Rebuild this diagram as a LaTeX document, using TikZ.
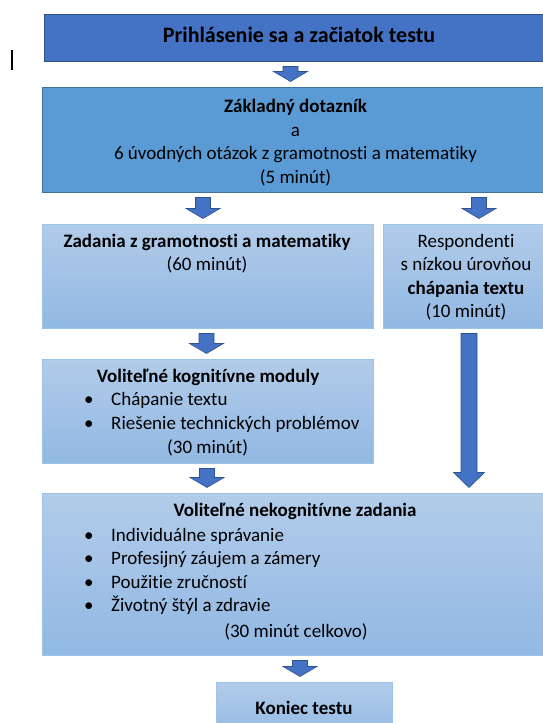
\documentclass[tikz,border=0pt]{standalone}
\usepackage{fontspec}
\setmainfont[Ligatures=NoCommon]{Carlito}
\usetikzlibrary{calc}

\definecolor{loginblue}{RGB}{68,114,196}
\definecolor{loginedge}{RGB}{47,82,143}
\definecolor{questblue}{RGB}{91,155,213}
\definecolor{questedge}{RGB}{65,113,156}
\definecolor{paletop}{RGB}{178,204,234}
\definecolor{palebottom}{RGB}{146,184,227}
\definecolor{paleedge}{RGB}{157,195,230}

\tikzset{
  box/.style={rectangle, inner sep=0pt, line width=1pt},
  loginbox/.style={box, fill=loginblue, draw=loginedge},
  questbox/.style={box, fill=questblue, draw=questedge},
  palebox/.style={box, top color=paletop, bottom color=palebottom, draw=paleedge},
  txt/.style={inner sep=0pt, font=\fontsize{19}{23.5}\selectfont, align=center},
  listtxt/.style={txt, align=left, anchor=west},
  blkarrow/.style={fill=loginblue, draw=loginedge, line width=0.6pt},
}

% x of the arrow, upper box, lower box, half shaft, half head, head length
\newcommand{\blkarrow}[6]{%
  \draw[blkarrow] let \p1=(#2.south), \p2=(#3.north) in
    ({#1pt-#4pt},\y1-5pt) -- ({#1pt+#4pt},\y1-5pt) -- ({#1pt+#4pt},\y2+5pt+#6pt)
    -- ({#1pt+#5pt},\y2+5pt+#6pt) -- (#1pt,\y2+5pt) -- ({#1pt-#5pt},\y2+5pt+#6pt)
    -- ({#1pt-#4pt},\y2+5pt+#6pt) -- cycle;}
\newcommand{\bul}{\makebox[27pt][l]{•}}

\begin{document}
\begin{tikzpicture}[x=1pt, y=-1pt]
  \useasboundingbox (0,0) rectangle (543,723);
  \clip (0,0) rectangle (543,723);

  % boxes
  \node[loginbox, minimum width=510pt, minimum height=47pt] (login) at (299,37.5) {};
  \node[questbox, minimum width=507pt, minimum height=105pt] (quest) at (295.5,139.5) {};
  \node[palebox, minimum width=331pt, minimum height=104pt] (tasks) at (207.5,276) {};
  \node[palebox, minimum width=166pt, minimum height=104pt] (lowread) at (466,276) {};
  \node[palebox, minimum width=331pt, minimum height=104pt] (cogn) at (207.5,411) {};
  \node[palebox, minimum width=506pt, minimum height=162pt] (noncogn) at (295,574) {};
  \node[palebox, minimum width=176pt, minimum height=58pt] (finish) at (304,711) {};

  % texts
  \node[txt, font=\fontsize{22}{26}\selectfont\bfseries] (logintxt) at (299,35) {Prihlásenie sa a začiatok testu};
  \node[txt] (questtxt) at (295.5,142.5) {\textbf{Základný dotazník}\\a\\6 úvodných otázok z gramotnosti a matematiky\\(5 minút)};
  \node[txt] (taskstxt) at (207,253.5) {\textbf{Zadania z gramotnosti a matematiky}\\(60 minút)};
  \node[txt] (lowreadtxt) at (466,277) {Respondenti\\s nízkou úrovňou\\\textbf{chápania textu}\\(10 minút)};
  \node[txt] (cogntitle) at (208,377) {\textbf{Voliteľné kognitívne moduly}};
  \node[listtxt] (cognlist) at (84,412.5) {\bul Chápanie textu\\\bul Riešenie technických problémov};
  \node[txt] (cogntime) at (207.6,448) {(30 minút)};
  \node[txt] (noncogntitle) at (295,511) {\textbf{Voliteľné nekognitívne zadania}};
  \node[listtxt] (noncognlist) at (84,571.5) {\bul Individuálne správanie\\\bul Profesijný záujem a zámery\\\bul Použitie zručností\\\bul Životný štýl a zdravie};
  \node[txt] (noncogntime) at (296,632) {(30 minút celkovo)};
  \node[txt] (finishtxt) at (304,708) {\textbf{Koniec testu}};

  % arrows
  \blkarrow{290.5}{login}{quest}{7.5}{17}{10}
  \blkarrow{203}{quest}{tasks}{7.5}{17}{10}
  \blkarrow{479}{quest}{lowread}{7.5}{17}{10}
  \blkarrow{206.5}{tasks}{cogn}{7.5}{17}{10}
  \blkarrow{469}{lowread}{noncogn}{8}{15.5}{15}
  \blkarrow{207}{cogn}{noncogn}{7.5}{17}{10}
  \blkarrow{300}{noncogn}{finish}{7.5}{17}{10}

  % text cursor
  \draw[line width=1.5pt] (12,50) -- (12,70);
\end{tikzpicture}
\end{document}
